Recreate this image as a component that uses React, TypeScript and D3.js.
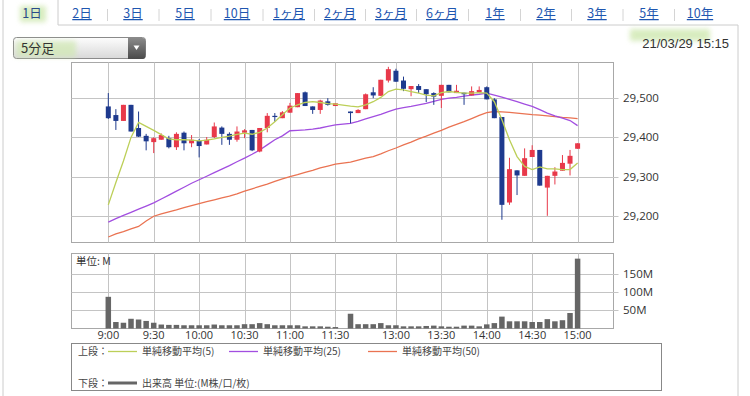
import React from "react";
import * as d3 from "d3";

const times = [
  "9:00","9:05","9:10","9:15","9:20","9:25","9:30","9:35","9:40","9:45","9:50","9:55",
  "10:00","10:05","10:10","10:15","10:20","10:25","10:30","10:35","10:40","10:45","10:50","10:55",
  "11:00","11:05","11:10","11:15","11:20","11:25","11:30",
  "12:30","12:35","12:40","12:45","12:50","12:55",
  "13:00","13:05","13:10","13:15","13:20","13:25","13:30","13:35","13:40","13:45","13:50","13:55",
  "14:00","14:05","14:10","14:15","14:20","14:25","14:30","14:35","14:40","14:45","14:50","14:55","15:00",
];
const open = [29479,29457,29442,29483,29424,29404,29388,29394,29398,29375,29412,29385,29391,29382,29401,29425,29409,29394,29412,29419,29364,29424,29455,29449,29463,29477,29515,29479,29470,29492,29480,
  29466,29462,29472,29515,29506,29545,29570,29545,29523,29531,29523,29513,29506,29534,29513,29514,29507,29515,29528,29497,29452,29234,29316,29302,29350,29368,29272,29302,29315,29333,29371];
const high = [29513,29472,29483,29483,29466,29409,29400,29410,29404,29413,29415,29406,29396,29401,29438,29428,29413,29428,29421,29419,29424,29462,29462,29467,29488,29513,29517,29479,29496,29500,29487,
  29466,29472,29512,29528,29547,29580,29575,29555,29531,29536,29523,29515,29534,29534,29534,29514,29530,29530,29530,29500,29452,29348,29316,29372,29380,29368,29302,29324,29355,29368,29385];
const low = [29447,29419,29442,29415,29401,29367,29360,29394,29372,29368,29367,29375,29349,29382,29398,29381,29381,29389,29398,29365,29362,29413,29440,29449,29463,29477,29480,29460,29460,29481,29480,
  29436,29462,29472,29500,29506,29540,29542,29518,29505,29513,29490,29483,29475,29515,29513,29483,29507,29515,29497,29449,29190,29228,29253,29302,29350,29277,29200,29280,29315,29303,29371];
const close = [29449,29442,29483,29415,29402,29390,29398,29406,29375,29409,29385,29394,29378,29394,29428,29409,29394,29415,29418,29367,29424,29455,29452,29464,29481,29513,29480,29470,29494,29483,29487,
  29462,29470,29510,29507,29547,29574,29542,29524,29531,29521,29510,29504,29534,29515,29519,29510,29518,29521,29497,29449,29228,29319,29303,29347,29368,29277,29302,29313,29335,29353,29385];
const volume = [88,18,16,27,25,21,16,11,10,10,9,9,9,9,11,9,9,9,12,12,15,12,9,9,9,9,6,6,6,5,4,
  41,12,12,12,15,9,9,6,6,6,7,8,6,5,5,8,8,6,11.5,15,33,20,20,20,18,18,26,20,23,43,194];
const ma5 = [29228,29285,29340,29400,29438,29428,29418,29407,29396,29394,29394,29393,29391,29393,29396,29400,29403,29408,29411,29408,29413,29424,29440,29458,29475,29483,29489,29491,29489,29486,29485,
  29480,29478,29483,29491,29502,29517,29523,29521,29517,29513,29508,29506,29514,29517,29515,29513,29513,29514,29513,29491,29445,29394,29351,29326,29318,29325,29320,29320,29318,29318,29335];
const ma25 = [29184,29193,29201,29209,29217,29225,29233,29243,29253,29263,29273,29283,29292,29301,29310,29319,29328,29338,29347,29357,29368,29381,29394,29404,29417,29418,29419,29421,29424,29428,29432,
  29436,29441,29447,29453,29459,29466,29472,29476,29479,29483,29487,29492,29497,29500,29502,29505,29508,29510,29513,29508,29503,29497,29491,29485,29479,29471,29462,29455,29449,29443,29430];
const ma50 = [29146,29154,29160,29167,29173,29187,29199,29205,29210,29215,29221,29226,29231,29236,29241,29246,29250,29256,29263,29269,29275,29281,29288,29294,29300,29305,29311,29316,29322,29327,29332,
  29337,29342,29347,29351,29358,29366,29373,29381,29388,29396,29403,29411,29418,29426,29433,29440,29448,29456,29463,29466,29465,29464,29462,29460,29458,29457,29455,29453,29451,29450,29448];

const xLabels = ["9:00","9:30","10:00","10:30","11:00","11:30","13:00","13:30","14:00","14:30","15:00"];
const priceTicks = [29200, 29300, 29400, 29500];
const priceTickLabels = ["29,200", "29,300", "29,400", "29,500"];
const volTicks = [50, 100, 150];
const volTickLabels = ["50M", "100M", "150M"];
const tabs = ["1日","2日","3日","5日","10日","1ヶ月","2ヶ月","3ヶ月","6ヶ月","1年","2年","3年","5年","10年"];
const tabCenters = [32, 82, 133, 185, 237, 289, 340, 391, 442, 495, 546, 597, 649, 700];
const legendItems = ["単純移動平均(5)", "単純移動平均(25)", "単純移動平均(50)"];

const RED = "#e8394a";
const BLUE = "#1e3a8e";
const C5 = "#bccf58";
const C25 = "#a24ee0";
const C50 = "#ea7352";
const GRID = "#c4c4c4";
const FRAME = "#a8a8a8";
const NUM = "'Open Sans', 'DejaVu Sans', sans-serif";
const JP = "'Noto Sans CJK JP', 'Noto Sans', sans-serif";

const slotOf = (t: string) => times.indexOf(t) + (times.indexOf(t) > 30 ? 1 : 0);

export default function App() {
  const L = 71.5, R = 613.5;
  const pTop = 62.5, pBot = 242.5;
  const vTop = 253.5, vBot = 328.5;
  const x = d3.scaleLinear().domain([0, 62]).range([108.3, 577.6]);
  const xi = (i: number) => x(i > 30 ? i + 1 : i);
  const y = d3.scaleLinear().domain([29132, 29591]).range([pBot, pTop]);
  const yv = d3.scaleLinear().domain([0, 208.3]).range([vBot, vTop]);
  const mkLine = (arr: number[]) =>
    d3.line<number>().x((_, i) => xi(i)).y((v) => y(v))(arr) || "";
  const bw = 5;

  return (
    <svg width={750} height={396} style={{ position: "absolute", left: 0, top: 0, background: "#fff" }}>
      <defs>
        <linearGradient id="dd" x1="0" y1="0" x2="0" y2="1">
          <stop offset="0" stopColor="#fdfdfd" />
          <stop offset="1" stopColor="#d8d8d8" />
        </linearGradient>
        <linearGradient id="btn" x1="0" y1="0" x2="0" y2="1">
          <stop offset="0" stopColor="#8a8a8a" />
          <stop offset="1" stopColor="#4a4a4a" />
        </linearGradient>
        <filter id="blur" x="-20%" y="-50%" width="140%" height="200%">
          <feGaussianBlur stdDeviation="2.5" />
        </filter>
      </defs>

      {/* outer panel */}
      <line x1={3} y1={0} x2={3} y2={396} stroke="#ccc" />
      <line x1={738} y1={25} x2={738} y2={396} stroke="#ccc" />
      <line x1={58} y1={0} x2={58} y2={25} stroke="#ccc" />
      <line x1={58} y1={25} x2={738} y2={25} stroke="#ccc" />

      {/* highlights */}
      <rect x={20} y={6} width={26} height={16} fill="#cfe8b0" opacity={0.8} filter="url(#blur)" />
      <rect x={630} y={29} width={80} height={12} fill="#cfe8b0" opacity={0.8} filter="url(#blur)" />

      {/* tabs */}
      {tabs.map((t, i) => (
        <g key={t}>
          <text x={tabCenters[i]} y={18} textAnchor="middle" fontFamily={JP} fontSize={12.5}
            fill={i === 0 ? "#2a4a8a" : "#1e56b0"} textDecoration={i === 0 ? "none" : "underline"}>{t}</text>
          {i > 0 && i < tabs.length - 1 && (
            <line x1={(tabCenters[i] + tabCenters[i + 1]) / 2} x2={(tabCenters[i] + tabCenters[i + 1]) / 2}
              y1={9} y2={21} stroke="#d4d4d4" />
          )}
        </g>
      ))}

      {/* dropdown */}
      <rect x={13.5} y={37.5} width={132} height={21} rx={3} fill="url(#dd)" stroke="#8a8a8a" />
      <rect x={16} y={41} width={60} height={16} fill="#cfe8b0" opacity={0.7} filter="url(#blur)" />
      <path d="M128,38 h14.5 a3,3 0 0 1 3,3 v15 a3,3 0 0 1 -3,3 h-14.5 z" fill="url(#btn)" />
      <path d="M133.5,45.5 h6 l-3,4.5 z" fill="#fff" />
      <text x={21} y={53} fontFamily={JP} fontSize={13} fill="#333">5分足</text>

      {/* date */}
      <text x={729} y={48} textAnchor="end" fontFamily="'Liberation Sans', Arial, sans-serif" fontSize={13} fill="#333">21/03/29 15:15</text>

      {/* price panel */}
      <rect x={L} y={pTop} width={R - L} height={pBot - pTop} fill="#fff" stroke={FRAME} />
      {xLabels.map((t) => (
        <line key={t} x1={Math.round(x(slotOf(t))) + 0.5} x2={Math.round(x(slotOf(t))) + 0.5} y1={pTop} y2={pBot} stroke={GRID} />
      ))}
      {priceTicks.map((v, i) => (
        <g key={v}>
          <line x1={L} x2={R + 5} y1={Math.round(y(v)) + 0.5} y2={Math.round(y(v)) + 0.5} stroke={GRID} />
          <text x={623} y={y(v) + 4} fontFamily={NUM} fontSize={11.5} fill="#333">{priceTickLabels[i]}</text>
        </g>
      ))}
      <path d={mkLine(ma50)} fill="none" stroke={C50} strokeWidth={1.3} />
      <path d={mkLine(ma25)} fill="none" stroke={C25} strokeWidth={1.3} />
      {open.map((o, i) => {
        const c = close[i];
        const up = c >= o;
        const col = up ? RED : BLUE;
        const cx = xi(i);
        const top = y(Math.max(o, c));
        const bot = y(Math.min(o, c));
        return (
          <g key={i}>
            <line x1={cx} x2={cx} y1={y(high[i])} y2={y(low[i])} stroke={col} strokeWidth={1} />
            <rect x={cx - bw / 2} y={top} width={bw} height={Math.max(1.2, bot - top)} fill={col} />
          </g>
        );
      })}
      <path d={mkLine(ma5)} fill="none" stroke={C5} strokeWidth={1.3} />

      {/* volume panel */}
      <rect x={L} y={vTop} width={R - L} height={vBot - vTop} fill="#fff" stroke={FRAME} />
      {xLabels.map((t) => (
        <g key={t}>
          <line x1={Math.round(x(slotOf(t))) + 0.5} x2={Math.round(x(slotOf(t))) + 0.5} y1={vTop} y2={vBot} stroke={GRID} />
          <text x={x(slotOf(t))} y={339} textAnchor="middle" fontFamily={NUM} fontSize={11} fill="#333">{t}</text>
        </g>
      ))}
      {volTicks.map((v, i) => (
        <g key={v}>
          <line x1={L} x2={R + 5} y1={Math.round(yv(v)) + 0.5} y2={Math.round(yv(v)) + 0.5} stroke={GRID} />
          <text x={623} y={yv(v) + 4} fontFamily={NUM} fontSize={11.5} fill="#333">{volTickLabels[i]}</text>
        </g>
      ))}
      {volume.map((v, i) => (
        <rect key={i} x={xi(i) - 2.75} y={yv(v)} width={5.5} height={vBot - yv(v)} fill="#666" />
      ))}
      <text x={76} y={265} fontFamily={JP} fontSize={10.5} fill="#333">単位: M</text>

      {/* legend */}
      <rect x={71.5} y={343.5} width={590} height={47} fill="#fff" stroke="#888" />
      <text x={78} y={355} fontFamily={JP} fontSize={10} fill="#444">上段：</text>
      {[C5, C25, C50].map((c, i) => {
        const lx = [108, 229, 368][i];
        return (
          <g key={i}>
            <line x1={lx} x2={lx + 29} y1={351.5} y2={351.5} stroke={c} strokeWidth={1.3} />
            <text x={lx + 34} y={355} fontFamily={JP} fontSize={10} fill="#444">{legendItems[i]}</text>
          </g>
        );
      })}
      <text x={78} y={387} fontFamily={JP} fontSize={10} fill="#444">下段：</text>
      <line x1={108} x2={137} y1={383} y2={383} stroke="#666" strokeWidth={3} />
      <text x={142} y={387} fontFamily={JP} fontSize={10} fill="#444">出来高 単位:(M株/口/枚)</text>
    </svg>
  );
}
